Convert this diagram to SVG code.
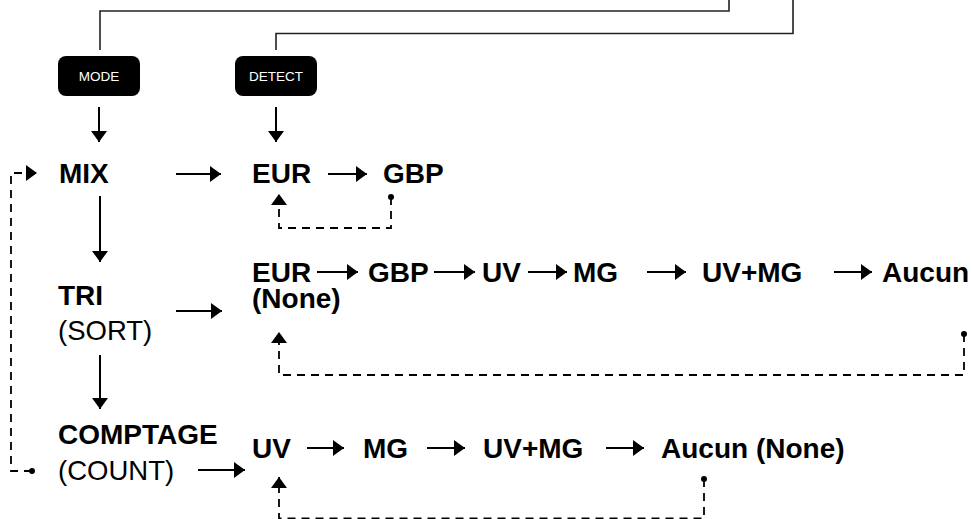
<svg xmlns="http://www.w3.org/2000/svg" width="972" height="519" viewBox="0 0 972 519">
<style>
text{font-family:"Liberation Sans",Arial,Helvetica,sans-serif;fill:#000}
.b{font-weight:bold;font-size:28px}
.r{font-size:27.5px}
.tag{font-size:13.5px;fill:#fff;text-anchor:middle}
.box{fill:#000}
.ln{fill:none;stroke:#000;stroke-width:2}
.top{fill:none;stroke:#222;stroke-width:1.6}
.ds{fill:none;stroke:#000;stroke-width:1.8;stroke-dasharray:8 6}
</style>
<defs>
<marker id="ah" markerUnits="userSpaceOnUse" markerWidth="12" markerHeight="18" refX="11" refY="8" orient="auto" overflow="visible"><path d="M0,0 L11,8 L0,16 z" fill="#000"/></marker>
<marker id="dot" markerUnits="userSpaceOnUse" markerWidth="8" markerHeight="8" refX="4" refY="4" overflow="visible"><circle cx="4" cy="4" r="3" fill="#000"/></marker>
</defs>
<rect width="972" height="519" fill="#fff"/>
<g id="connectors">
<path class="top" d="M100,50 V11 H729 V0"/>
<path class="top" d="M276,50 V33.5 H793 V0"/>
<path class="ln" d="M99,107 V142" marker-end="url(#ah)"/>
<path class="ln" d="M276,107 V142" marker-end="url(#ah)"/>
<path class="ln" d="M100,196 V262" marker-end="url(#ah)"/>
<path class="ln" d="M100,355 V409" marker-end="url(#ah)"/>
<path class="ln" d="M176,174 H221" marker-end="url(#ah)"/>
<path class="ln" d="M328,174 H367" marker-end="url(#ah)"/>
<path class="ln" d="M176,311 H222" marker-end="url(#ah)"/>
<path class="ln" d="M198,470 H245" marker-end="url(#ah)"/>
<path class="ln" d="M317,272 H358" marker-end="url(#ah)"/>
<path class="ln" d="M434,272 H475" marker-end="url(#ah)"/>
<path class="ln" d="M528,272 H567" marker-end="url(#ah)"/>
<path class="ln" d="M647,272 H686" marker-end="url(#ah)"/>
<path class="ln" d="M834,272 H872" marker-end="url(#ah)"/>
<path class="ln" d="M307,448 H344" marker-end="url(#ah)"/>
<path class="ln" d="M427,448 H465" marker-end="url(#ah)"/>
<path class="ln" d="M606,448 H644" marker-end="url(#ah)"/>
<path class="ds" d="M391,197 V228 H279 V194" marker-start="url(#dot)" marker-end="url(#ah)"/>
<path class="ds" d="M964,334 V375 H279 V332" marker-start="url(#dot)" marker-end="url(#ah)"/>
<path class="ds" d="M704,479 V518.5 H279 V477" marker-start="url(#dot)" marker-end="url(#ah)"/>
<path class="ds" d="M32,471 H11 V173 H37" marker-start="url(#dot)" marker-end="url(#ah)"/>
</g>
<g id="mode"><rect class="box" x="58" y="56" width="82" height="40" rx="8"/><text class="tag" x="99" y="81">MODE</text></g>
<g id="detect"><rect class="box" x="235" y="56" width="82" height="40" rx="8"/><text class="tag" x="276" y="81">DETECT</text></g>
<g id="mix"><text class="b" x="59" y="183">MIX</text></g>
<g id="eur1"><text class="b" x="252" y="183">EUR</text></g>
<g id="gbp1"><text class="b" x="383" y="183">GBP</text></g>
<g id="tri"><text class="b" x="58" y="305">TRI</text><text class="r" x="58" y="340">(SORT)</text></g>
<g id="comptage"><text class="b" x="58" y="444">COMPTAGE</text><text class="r" x="58" y="480">(COUNT)</text></g>
<g id="eur2"><text class="b" x="252" y="282">EUR</text></g>
<g id="gbp2"><text class="b" x="368" y="282">GBP</text></g>
<g id="uv2"><text class="b" x="482" y="282">UV</text></g>
<g id="mg2"><text class="b" x="573" y="282">MG</text></g>
<g id="uvmg2"><text class="b" x="702" y="282">UV+MG</text></g>
<g id="aucun2"><text class="b" x="882" y="282">Aucun</text><text class="b" x="252" y="308">(None)</text></g>
<g id="uv3"><text class="b" x="252" y="458">UV</text></g>
<g id="mg3"><text class="b" x="363" y="458">MG</text></g>
<g id="uvmg3"><text class="b" x="483" y="458">UV+MG</text></g>
<g id="aucun3"><text class="b" x="661" y="458">Aucun (None)</text></g>
</svg>
